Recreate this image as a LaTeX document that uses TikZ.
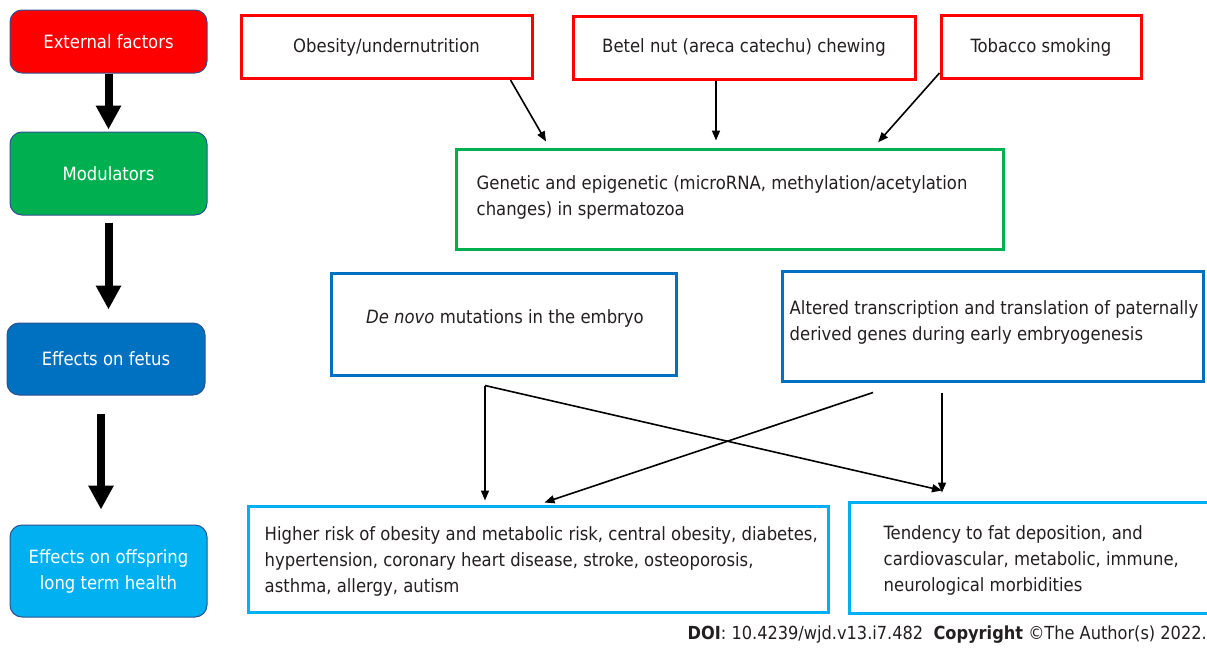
\documentclass[tikz,border=0pt]{standalone}
\usepackage{fontspec}
\setmainfont{DejaVu Sans Condensed}
\usetikzlibrary{arrows.meta,calc}
\definecolor{extred}{HTML}{FF0000}
\definecolor{modgreen}{HTML}{00B050}
\definecolor{fetblue}{HTML}{0070C0}
\definecolor{offblue}{HTML}{00B0F0}
\definecolor{sideedge}{HTML}{2F528F}
\definecolor{inktext}{HTML}{231F20}
\begin{document}
\begin{tikzpicture}[x=1pt,y=-1pt,
  every node/.style={font=\fontsize{18.3}{26}\selectfont,text=inktext,inner sep=0pt},
  sidebox/.style={draw=sideedge,line width=1pt,rounded corners=12pt,text=white,
    minimum width=197pt,align=center},
  factorbox/.style={draw=extred,line width=3pt,minimum height=63pt},
  effbox/.style={draw=fetblue,line width=3pt,minimum height=102pt},
  riskbox/.style={draw=offblue,line width=3pt},
  boxtext/.style={anchor=west,align=left},
  bigarrow/.style={line width=8pt,-{Triangle[width=24pt,length=24pt]}},
  arr/.style={line width=1.6pt,-{Triangle[width=8pt,length=10pt]}}]
\useasboundingbox (0,0) rectangle (1207,648);

% left column
\node[sidebox,fill=extred,minimum height=63pt] (ext) at (108.5,41.5) {External factors};
\node[sidebox,fill=modgreen,minimum height=83pt] (mod) at (108.5,173.5) {Modulators};
\node[sidebox,fill=fetblue,minimum width=198pt,minimum height=72pt] (fet) at (106,359) {Effects on fetus};
\node[sidebox,fill=offblue,minimum height=92pt] (off) at (108.5,571) {Effects on offspring\\long term health};

\draw[bigarrow,shorten >=2pt] (ext.south) -- (ext.south |- mod.north);
\draw[bigarrow,shorten <=7pt,shorten >=13pt] (mod.south) -- (mod.south |- fet.north);
\draw[bigarrow,shorten <=18pt,shorten >=15pt] ([xshift=-5pt]fet.south) -- ([xshift=-5pt]fet.south |- off.north);

% external factors
\node[factorbox,minimum width=291pt] (obes) at (386.5,47) {Obesity/undernutrition};
\node[factorbox,minimum width=342pt] (betel) at (744,47.5) {Betel nut (areca catechu) chewing};
\node[factorbox,minimum width=200pt] (tob) at (1041,47) {Tobacco smoking};

% modulators
\node[draw=modgreen,line width=3pt,minimum width=547pt,minimum height=100pt] (gen) at (729.5,199) {};
\node[boxtext] (gentext) at ([xshift=22pt,yshift=1.5pt]gen.west)
  {Genetic and epigenetic (microRNA, methylation/acetylation\\changes) in spermatozoa};

\draw[arr,shorten >=7pt] ([xshift=-23pt]obes.south east) -- ([xshift=95pt]gen.north west);
\draw[arr,shorten >=7pt] ([xshift=-28pt]betel.south) -- ([xshift=-28pt]betel.south |- gen.north);
\draw[arr,shorten >=7pt] ([yshift=7pt]tob.south west) -- ([xshift=-131pt]gen.north east);

% effects on fetus
\node[effbox,minimum width=345pt] (denovo) at (503.5,324) {};
\node (denovotext) at ([xshift=1.5pt,yshift=6pt]denovo.center) {\textit{De novo} mutations in the embryo};
\node[effbox,minimum width=421pt,minimum height=110pt] (altered) at (992.5,326) {};
\node[boxtext] (alteredtext) at ([xshift=9pt,yshift=4pt]altered.west)
  {Altered transcription and translation of paternally\\derived genes during early embryogenesis};

% effects on offspring
\node[riskbox,minimum width=580pt,minimum height=106pt] (hrisk) at (538,559) {};
\node[boxtext] (hrisktext) at ([xshift=18pt,yshift=-2pt]hrisk.west)
  {Higher risk of obesity and metabolic risk, central obesity, diabetes,\\hypertension, coronary heart disease, stroke, osteoporosis,\\asthma, allergy, autism};
\node[riskbox,minimum width=363pt,minimum height=111pt] (tend) at (1030.5,557.5) {};
\node[boxtext] (tendtext) at ([xshift=36pt,yshift=-2.5pt]tend.west)
  {Tendency to fat deposition, and\\cardiovascular, metabolic, immune,\\neurological morbidities};

\coordinate (split) at ([xshift=-18.5pt,yshift=-9pt]denovo.south);
\coordinate (fork) at ([xshift=-50.5pt,yshift=-10pt]altered.south);
\draw[arr,shorten >=4pt] (split) -- (split |- hrisk.north);
\draw[arr,shorten >=8pt] (fork) -- (fork |- tend.north);
\draw[arr] (split) -- ($(fork |- tend.north)+(0,-10)$);
\draw[arr] ([xshift=-69pt]fork) -- ([xshift=298pt,yshift=2pt]hrisk.north west);

\node[anchor=east,font=\fontsize{18}{20}\selectfont] (doi) at (1207,635)
  {\textbf{DOI}: 10.4239/wjd.v13.i7.482\ \ \textbf{Copyright} ©The Author(s) 2022.};
\end{tikzpicture}
\end{document}
